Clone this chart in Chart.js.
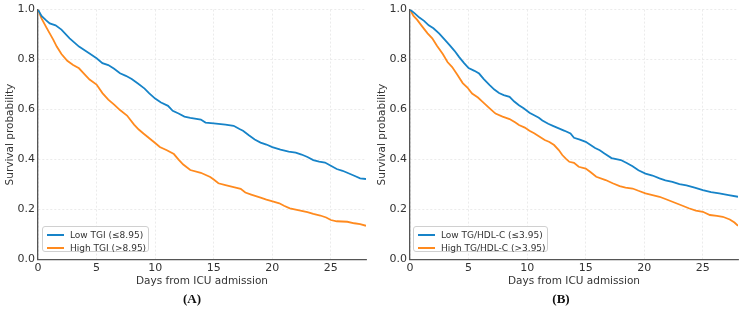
<!DOCTYPE html>
<html>
<head>
<meta charset="utf-8">
<script src="https://cdn.jsdelivr.net/npm/chart.js@4/dist/chart.umd.min.js"></script>
<style>
  html, body { margin: 0; padding: 0; background: #fff; }
  #wrap { position: relative; width: 744px; height: 311px; overflow: hidden; font-family: "DejaVu Sans", sans-serif; }
  .panel { position: absolute; top: 0; width: 372px; height: 311px; }
  .tag { position: absolute; top: 291px; width: 40px; text-align: center; font: bold 13px "Liberation Serif", "Times New Roman", serif; color: #111; }
  .legend { position: absolute; top: 226px; height: 26px; border: 1px solid #d0d0d0; border-radius: 3px; background: rgba(255,255,255,0.85); box-sizing: border-box; }
  .legend .row { position: absolute; left: 0; height: 12px; font-size: 9px; color: #333; white-space: nowrap; }
  .legend .swatch { position: absolute; left: 4px; top: 5px; width: 17px; height: 2px; }
  .legend .txt { position: absolute; left: 27px; top: 0; line-height: 12px; }
</style>
</head>
<body>
<div id="wrap">
  <div class="panel" style="left:0"><canvas id="chartA" width="372" height="311"></canvas></div>
  <div class="panel" style="left:372px"><canvas id="chartB" width="372" height="311"></canvas></div>
  <div class="tag" style="left:172px">(A)</div>
  <div class="tag" style="left:541px">(B)</div>
  <div class="legend" id="legendA" style="left:42px;width:107px"></div>
  <div class="legend" id="legendB" style="left:413px;width:135px"></div>
</div>
<script>
// Kaplan-Meier curves (days, survival probability)

// Panel A - TGI
const daysLowTGI = [0, 0.3, 0.7, 1.0, 1.5, 2.0, 2.7, 3.5, 4.4, 5.0, 5.5, 6.0, 6.5, 7.0, 7.5, 8.0, 8.5, 9.1, 9.5, 10.0, 10.5, 11.1, 11.5, 12.0, 12.5, 13.0, 13.9, 14.3, 15.0, 16.0, 16.7, 17.2, 17.5, 18.0, 18.5, 19.0, 19.5, 20.0, 20.7, 21.4, 22.0, 22.5, 23.0, 23.5, 24.0, 24.5, 25.0, 25.5, 26.0, 26.5, 27.0, 27.5, 28.0];
const survLowTGI = [1.0, 0.975, 0.957, 0.945, 0.937, 0.92, 0.885, 0.852, 0.824, 0.805, 0.786, 0.778, 0.763, 0.745, 0.735, 0.722, 0.705, 0.684, 0.665, 0.644, 0.628, 0.615, 0.595, 0.584, 0.572, 0.567, 0.56, 0.548, 0.545, 0.54, 0.535, 0.522, 0.515, 0.497, 0.48, 0.468, 0.46, 0.45, 0.44, 0.432, 0.428, 0.42, 0.41, 0.398, 0.392, 0.388, 0.375, 0.362, 0.355, 0.345, 0.335, 0.325, 0.322];

const daysHighTGI = [0, 0.3, 0.7, 1.0, 1.3, 1.6, 2.0, 2.5, 3.0, 3.5, 4.0, 4.4, 5.0, 5.5, 6.0, 6.5, 7.0, 7.6, 8.2, 8.6, 9.0, 9.5, 10.0, 10.4, 11.0, 11.6, 12.0, 12.4, 13.0, 13.9, 14.7, 15.0, 15.4, 16.0, 16.7, 17.3, 17.7, 18.2, 19.0, 19.5, 20.1, 20.6, 21.0, 21.5, 22.4, 23.0, 23.5, 24.1, 24.6, 25.0, 25.5, 26.4, 27.0, 27.5, 28.0];
const survHighTGI = [1.0, 0.965, 0.93, 0.905, 0.88, 0.852, 0.822, 0.795, 0.778, 0.765, 0.74, 0.72, 0.70, 0.666, 0.64, 0.62, 0.598, 0.576, 0.54, 0.52, 0.504, 0.485, 0.466, 0.45, 0.437, 0.422, 0.40, 0.38, 0.358, 0.347, 0.33, 0.32, 0.305, 0.298, 0.29, 0.283, 0.268, 0.26, 0.248, 0.24, 0.232, 0.225, 0.215, 0.205, 0.196, 0.19, 0.183, 0.176, 0.168, 0.158, 0.153, 0.151, 0.145, 0.142, 0.135];

// Panel B - TG/HDL-C
const daysLowTGHDL = [0, 0.4, 0.8, 1.2, 1.6, 2.0, 2.5, 3.0, 3.4, 3.8, 4.2, 4.6, 5.0, 5.5, 5.9, 6.3, 6.8, 7.2, 7.6, 8.0, 8.5, 8.9, 9.3, 9.7, 10.2, 10.6, 11.0, 11.3, 11.8, 12.2, 12.7, 13.2, 13.7, 14.0, 14.5, 15.0, 15.8, 16.2, 16.6, 17.2, 17.6, 18.0, 18.5, 19.0, 19.5, 20.1, 20.7, 21.3, 21.8, 22.4, 23.0, 23.6, 24.3, 25.0, 25.7, 26.4, 27.2, 28.0];
const survLowTGHDL = [1.0, 0.985, 0.968, 0.955, 0.937, 0.925, 0.904, 0.878, 0.857, 0.835, 0.81, 0.787, 0.766, 0.755, 0.744, 0.722, 0.698, 0.68, 0.666, 0.658, 0.651, 0.632, 0.617, 0.605, 0.587, 0.577, 0.567, 0.556, 0.543, 0.535, 0.525, 0.515, 0.504, 0.487, 0.48, 0.471, 0.446, 0.437, 0.424, 0.406, 0.402, 0.398, 0.386, 0.373, 0.357, 0.344, 0.336, 0.325, 0.317, 0.311, 0.302, 0.297, 0.288, 0.278, 0.27, 0.265, 0.258, 0.251];

const daysHighTGHDL = [0, 0.3, 0.6, 1.0, 1.5, 1.9, 2.3, 2.8, 3.2, 3.6, 4.0, 4.5, 4.9, 5.3, 5.8, 6.2, 6.8, 7.3, 7.9, 8.5, 9.0, 9.3, 9.8, 10.2, 10.6, 11.0, 11.5, 11.9, 12.3, 12.7, 13.0, 13.3, 13.6, 14.0, 14.4, 15.0, 15.4, 15.9, 16.7, 17.3, 17.9, 18.4, 19.0, 19.5, 20.1, 20.7, 21.3, 21.8, 22.4, 23.0, 23.8, 24.4, 25.0, 25.6, 26.2, 26.7, 27.3, 27.7, 28.0];
const survHighTGHDL = [1.0, 0.975, 0.96, 0.935, 0.905, 0.885, 0.855, 0.822, 0.79, 0.77, 0.742, 0.706, 0.688, 0.664, 0.648, 0.631, 0.605, 0.584, 0.572, 0.562, 0.548, 0.538, 0.528, 0.515, 0.505, 0.493, 0.478, 0.47, 0.458, 0.438, 0.418, 0.404, 0.391, 0.387, 0.371, 0.364, 0.35, 0.331, 0.318, 0.305, 0.294, 0.288, 0.284, 0.275, 0.265, 0.258, 0.251, 0.242, 0.231, 0.22, 0.205, 0.196, 0.191, 0.178, 0.175, 0.171, 0.16, 0.148, 0.135];

const xTicks = [0, 5, 10, 15, 20, 25];
const yTicks = [0.0, 0.2, 0.4, 0.6, 0.8, 1.0];
const labelsA = ['Low TGI (\u22648.95)', 'High TGI (>8.95)'];
const labelsB = ['Low TG/HDL-C (\u22643.95)', 'High TG/HDL-C (>3.95)'];

const BLUE = '#1683c8';
const ORANGE = '#ff8a1e';

Chart.defaults.font.family = '"DejaVu Sans", sans-serif';
Chart.defaults.color = '#333';

function toPoints(days, surv) {
  return days.map((d, i) => ({ x: d, y: surv[i] }));
}

function makeChart(id, low, high, labels) {
  const ctx = document.getElementById(id).getContext('2d');
  return new Chart(ctx, {
    type: 'line',
    data: {
      datasets: [
        { label: labels[0], data: toPoints(low[0], low[1]), borderColor: BLUE, borderWidth: 1.8, pointRadius: 0, tension: 0, fill: false },
        { label: labels[1], data: toPoints(high[0], high[1]), borderColor: ORANGE, borderWidth: 1.8, pointRadius: 0, tension: 0, fill: false }
      ]
    },
    options: {
      responsive: false,
      animation: false,
      layout: { padding: { left: 0, right: 6, top: 9, bottom: 20 } },
      plugins: { legend: { display: false }, tooltip: { enabled: false } },
      scales: {
        x: {
          type: 'linear', min: 0, max: 28,
          afterFit: s => { s.height = 31.5; },
          afterBuildTicks: s => { s.ticks = xTicks.map(v => ({ value: v })); },
          ticks: { padding: 2, font: { size: 11 }, color: '#333' },
          grid: { color: '#e6e6e6', lineWidth: 0.8, drawTicks: false, tickLength: 0 },
          border: { color: '#555', width: 1.3, dash: [2, 2] },
          title: { display: true, text: 'Days from ICU admission', font: { size: 10.5 }, color: '#333', padding: { top: 0, bottom: 3 } }
        },
        y: {
          type: 'linear', min: 0, max: 1,
          afterFit: s => { s.width = 38; },
          afterBuildTicks: s => { s.ticks = yTicks.map(v => ({ value: v })); },
          ticks: { padding: 3, font: { size: 11 }, color: '#333', callback: v => v.toFixed(1) },
          grid: { color: '#e6e6e6', lineWidth: 0.8, drawTicks: false, tickLength: 0 },
          border: { color: '#555', width: 1.3, dash: [2, 2] },
          title: { display: true, text: 'Survival probability', font: { size: 10.5 }, color: '#333', padding: { top: 4, bottom: 0 } }
        }
      }
    }
  });
}

function fillLegend(id, labels) {
  const box = document.getElementById(id);
  const colors = [BLUE, ORANGE];
  labels.forEach((t, i) => {
    const row = document.createElement('div');
    row.className = 'row';
    row.style.top = (2 + i * 13) + 'px';
    row.innerHTML = '<div class="swatch" style="background:' + colors[i] + '"></div><div class="txt">' + t + '</div>';
    box.appendChild(row);
  });
}

makeChart('chartA', [daysLowTGI, survLowTGI], [daysHighTGI, survHighTGI], labelsA);
makeChart('chartB', [daysLowTGHDL, survLowTGHDL], [daysHighTGHDL, survHighTGHDL], labelsB);
fillLegend('legendA', labelsA);
fillLegend('legendB', labelsB);
</script>
</body>
</html>
